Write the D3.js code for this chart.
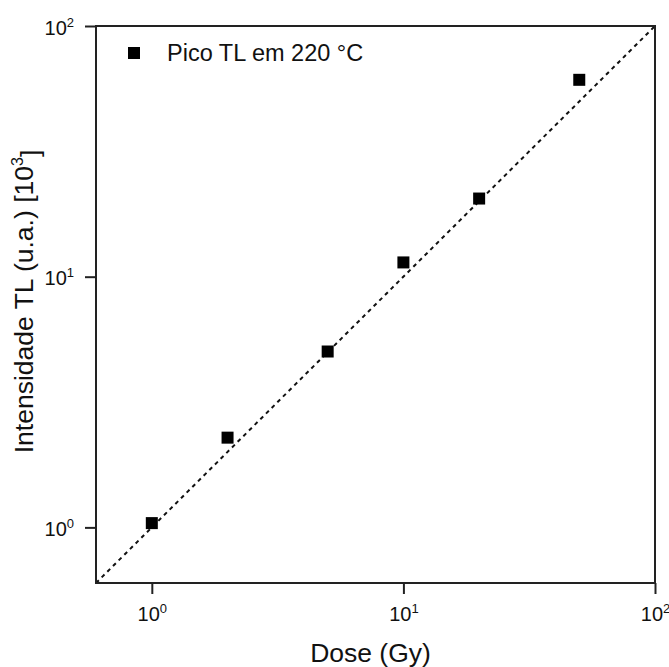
<!DOCTYPE html>
<html>
<head>
<meta charset="utf-8">
<script src="https://cdn.jsdelivr.net/npm/d3@7"></script>
<style>
  body { margin: 0; background: #fff; }
  text { font-family: "Liberation Sans", Arial, sans-serif; fill: #111; }
</style>
</head>
<body>
<svg width="669" height="667"></svg>
<script>
// dose (Gy) and TL intensity [10^3 u.a.]
var doses = [1, 2, 5, 10, 20, 50];
var intensities = [1.04, 2.28, 5.03, 11.4, 20.5, 61];
var fitX = [0.6, 100];
var fitY = [0.6, 100];
var tickValues = [1, 10, 100];
var tickExps = ["0", "1", "2"];
var legendLabel = "Pico TL em 220 °C";

var svg = d3.select("svg");
var margin = { left: 96, right: 14, top: 26, bottom: 84 };
var width = 669 - margin.left - margin.right,
    height = 667 - margin.top - margin.bottom;

var g = svg.append("g").attr("transform", "translate(" + margin.left + "," + margin.top + ")");

var x = d3.scaleLog().domain([0.6, 100]).range([0, width]);
var y = d3.scaleLog().domain([0.6, 100]).range([height, 0]);

// fit line
g.append("line")
    .attr("x1", x(fitX[0])).attr("y1", y(fitY[0]))
    .attr("x2", x(fitX[1])).attr("y2", y(fitY[1]))
    .style("stroke", "#111")
    .style("stroke-width", 2)
    .style("stroke-dasharray", "4,4");

// frame
g.append("rect")
    .attr("width", width).attr("height", height)
    .style("fill", "none").style("stroke", "#222").style("stroke-width", 2);

var fmt = function(sel, axis) {
  sel.call(axis);
  sel.attr("font-size", null);
  sel.select(".domain").remove();
  sel.selectAll(".tick line").style("stroke", "#222").style("stroke-width", 2);
  sel.selectAll(".tick text").text(null);
  sel.selectAll(".tick text").each(function(d, i) {
    var t = d3.select(this);
    t.append("tspan").style("font-size", "20px").text("10");
    t.append("tspan").attr("dy", "-0.6em").style("font-size", "13px").text(tickExps[i]);
  });
};

var xAxis = g.append("g").attr("transform", "translate(0," + height + ")");
fmt(xAxis, d3.axisBottom(x).tickValues(tickValues).tickSize(11).tickPadding(13));
xAxis.selectAll(".tick text").attr("dy", "14px");

var yAxis = g.append("g");
fmt(yAxis, d3.axisLeft(y).tickValues(tickValues).tickSize(11).tickPadding(11));
yAxis.selectAll(".tick text").attr("dy", "8px");

// points
var s = 12;
g.selectAll(".pt")
    .data(doses)
    .enter()
    .append("rect")
    .attr("class", "pt")
    .attr("x", function(d) { return x(d) - s / 2; })
    .attr("y", function(d, i) { return y(intensities[i]) - s / 2; })
    .attr("width", s).attr("height", s)
    .style("fill", "#000");

// legend
g.append("rect").attr("x", 32).attr("y", 21).attr("width", 12).attr("height", 12).style("fill", "#000");
g.append("text").attr("x", 71).attr("y", 35).style("font-size", "23.5px").text(legendLabel);

// axis titles
svg.append("text")
    .attr("x", margin.left + width / 2 - 5).attr("y", 662)
    .attr("text-anchor", "middle").style("font-size", "26.5px")
    .text("Dose (Gy)");

var yt = svg.append("text")
    .attr("transform", "translate(33," + (margin.top + height / 2 - 3) + ") rotate(-90)")
    .attr("text-anchor", "middle").style("font-size", "26.5px");
yt.append("tspan").text("Intensidade TL (u.a.) [10");
yt.append("tspan").attr("dy", "-0.6em").style("font-size", "16px").text("3");
yt.append("tspan").attr("dy", "0.6em").text("]");
</script>
</body>
</html>
